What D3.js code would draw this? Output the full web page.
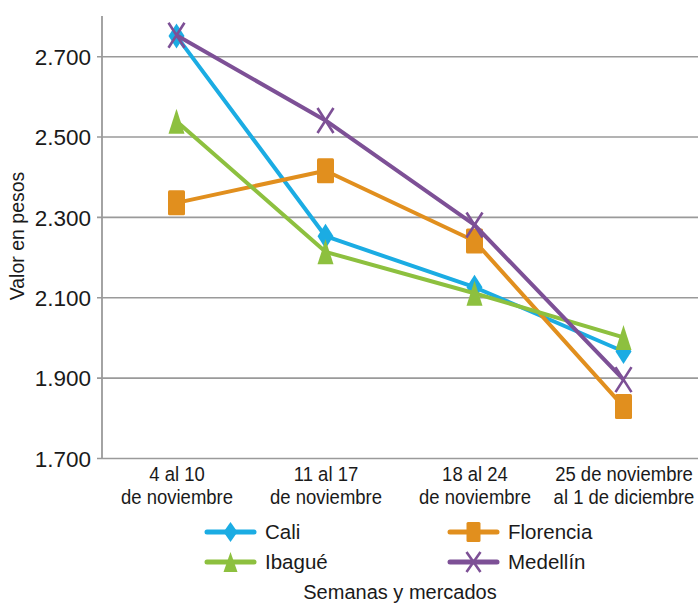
<!DOCTYPE html>
<html>
<head>
<meta charset="utf-8">
<script src="https://cdn.jsdelivr.net/npm/d3@7"></script>
<style>
  html, body { margin: 0; padding: 0; background: #fff; }
  svg { display: block; }
  text { font-family: "Liberation Sans", Arial, sans-serif; fill: #1a1a1a; }
</style>
</head>
<body>
<svg id="chart" width="699" height="604"></svg>
<script>
// ---- Data ----
const categories = [
  ["4 al 10", "de noviembre"],
  ["11 al 17", "de noviembre"],
  ["18 al 24", "de noviembre"],
  ["25 de noviembre", "al 1 de diciembre"]
];
const seriesNames = ["Cali", "Florencia", "Ibagué", "Medellín"];
const cali      = [2750, 2252, 2125, 1965];
const florencia = [2335, 2415, 2240, 1828];
const ibague    = [2538, 2213, 2110, 2000];
const medellin  = [2752, 2540, 2280, 1895];
const yTicks = [1700, 1900, 2100, 2300, 2500, 2700];
const yTitle = "Valor en pesos";
const xTitle = "Semanas y mercados";

// ---- Styles ----
const colors  = { "Cali": "#1bace3", "Florencia": "#e18f1e", "Ibagué": "#8dc03f", "Medellín": "#7d5096" };
const markers = { "Cali": "diamond", "Florencia": "square", "Ibagué": "triangle", "Medellín": "x" };
const seriesValues = { "Cali": cali, "Florencia": florencia, "Ibagué": ibague, "Medellín": medellin };

const svg = d3.select("#chart");
const mLeft = 102, mRight = 698, mTop = 16, mBottom = 458;

const x = d3.scalePoint().domain(d3.range(categories.length)).range([mLeft, mRight]).padding(0.5);
const y = d3.scaleLinear().domain([1700, 2800]).range([mBottom, mTop]);

const locale = d3.formatLocale({ decimal: ",", thousands: ".", grouping: [3], currency: ["$", ""] });
const fmt = locale.format(",.0f");

// gridlines
svg.append("g")
  .attr("transform", `translate(${mLeft},0)`)
  .call(d3.axisLeft(y).tickValues(yTicks).tickSizeInner(-(mRight - mLeft)).tickSizeOuter(0).tickFormat(""))
  .call(g => g.select(".domain").remove())
  .call(g => g.selectAll("line").attr("stroke", "#9a9a9a").attr("stroke-width", 1.6).attr("x1", -5));

// y axis labels + line
const yAxis = svg.append("g")
  .attr("transform", `translate(${mLeft},0)`)
  .call(d3.axisLeft(y).tickValues(yTicks).tickSize(0).tickPadding(11).tickFormat(fmt));
yAxis.select(".domain").remove();
yAxis.selectAll("text").attr("font-size", 22.5).attr("font-family", "Liberation Sans, Arial, sans-serif").attr("fill", "#1a1a1a").attr("dy", "0.36em");
svg.append("line").attr("x1", mLeft).attr("x2", mLeft).attr("y1", mTop).attr("y2", mBottom)
  .attr("stroke", "#9a9a9a").attr("stroke-width", 1.8);

// x axis category labels
const xAxis = svg.append("g").attr("transform", `translate(0,${mBottom})`)
  .call(d3.axisBottom(x).tickSize(0).tickFormat(""));
xAxis.select(".domain").remove();
xAxis.selectAll(".tick").each(function(d) {
  const t = d3.select(this).append("text").attr("text-anchor", "middle").attr("font-size", 18.5)
    .attr("fill", "#1a1a1a").attr("transform", "scale(1,1.12)");
  t.append("tspan").attr("x", 0).attr("y", 23.5 / 1.12).text(categories[d][0]);
  t.append("tspan").attr("x", 0).attr("y", 46 / 1.12).text(categories[d][1]);
});

// axis titles
svg.append("text").attr("transform", `translate(24,236) rotate(-90)`).attr("text-anchor", "middle")
  .attr("font-size", 19.5).text(yTitle);
svg.append("text").attr("x", 400).attr("y", 599).attr("text-anchor", "middle")
  .attr("font-size", 20).text(xTitle);

// marker shapes
function drawMarker(g, type, color, w, h) {
  const hw = w / 2, hh = h / 2;
  if (type === "diamond") {
    g.append("path").attr("d", `M0,${-hh}L${hw},0L0,${hh}L${-hw},0Z`).attr("fill", color);
  } else if (type === "square") {
    g.append("rect").attr("x", -hw).attr("y", -hh).attr("width", w).attr("height", h).attr("rx", 1.5).attr("fill", color);
  } else if (type === "triangle") {
    g.append("path").attr("d", `M0,${-hh}L${hw},${hh}L${-hw},${hh}Z`).attr("fill", color);
  } else if (type === "x") {
    g.append("path").attr("d", `M${-hw},${-hh}L${hw},${hh}M${hw},${-hh}L${-hw},${hh}`)
      .attr("stroke", color).attr("stroke-width", 2.6).attr("fill", "none");
  }
}

const line = d3.line().x((d, i) => x(i)).y(d => y(d));

seriesNames.forEach(name => {
  const vals = seriesValues[name];
  const g = svg.append("g");
  g.append("path").datum(vals).attr("d", line).attr("fill", "none")
    .attr("stroke", colors[name]).attr("stroke-width", 4).attr("stroke-linejoin", "round");
  vals.forEach((v, i) => {
    const mg = g.append("g").attr("transform", `translate(${x(i)},${y(v)})`);
    drawMarker(mg, markers[name], colors[name], markers[name] === "square" ? 17 : 16, 25);
  });
});

// legend
const legendPos = { "Cali": [207, 532], "Florencia": [450, 532], "Ibagué": [207, 562], "Medellín": [450, 562] };
seriesNames.forEach(name => {
  const [lx, ly] = legendPos[name];
  const g = svg.append("g").attr("transform", `translate(${lx},${ly})`);
  g.append("line").attr("x1", 0).attr("x2", 47).attr("y1", 0).attr("y2", 0)
    .attr("stroke", colors[name]).attr("stroke-width", 5).attr("stroke-linecap", "round");
  const mg = g.append("g").attr("transform", "translate(23.5,0)");
  drawMarker(mg, markers[name], colors[name], 14, 20);
  g.append("text").attr("x", 58).attr("y", 0).attr("dy", "0.36em").attr("font-size", 20.5).text(name);
});
</script>
</body>
</html>
